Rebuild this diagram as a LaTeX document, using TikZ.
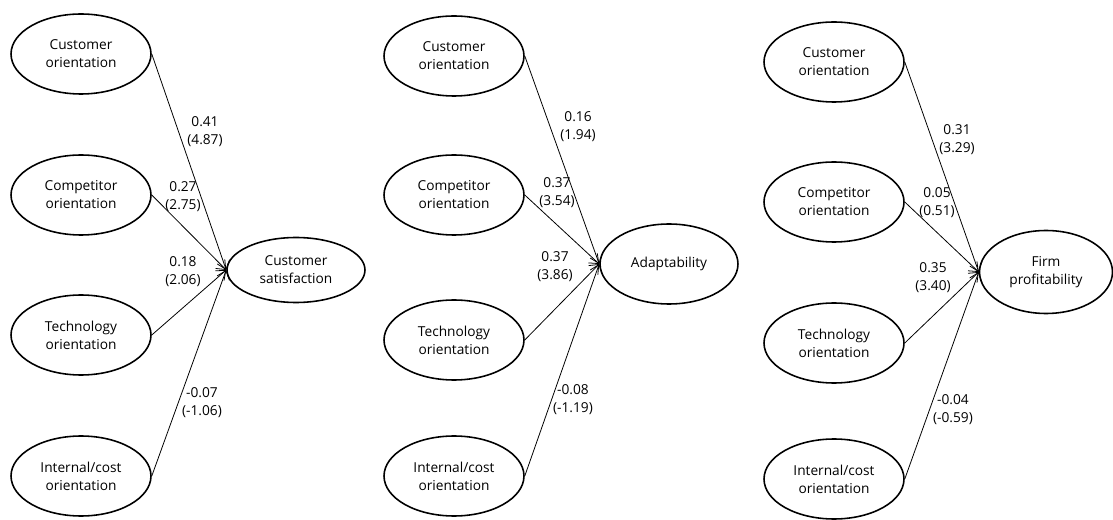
\documentclass[tikz,border=0pt]{standalone}
\usepackage{fontspec}
\setmainfont{Open Sans}
\usetikzlibrary{shapes.geometric,arrows.meta}

\begin{document}
\begin{tikzpicture}[x=0.02cm,y=-0.02cm]
\tikzstyle{every node}+=[inner sep=0pt,font=\fontsize{7.8}{10.2}\selectfont,align=center]
\tikzstyle{construct}=[ellipse,draw=black,line width=0.9pt,minimum width=2.8cm,minimum height=1.6cm]
\tikzstyle{outcome}=[construct,minimum width=2.76cm,minimum height=1.3cm]
\tikzstyle{path}=[draw=black,line width=0.45pt,-{Straight Barb[length=1.6mm,width=2.6mm]}]
\useasboundingbox (0,0) rectangle (1113,520);
\node [construct] (cus1) at (81,54) {Customer\\orientation};
\node [construct] (com1) at (81,195) {Competitor\\orientation};
\node [construct] (tec1) at (81,335) {Technology\\orientation};
\node [construct] (int1) at (81,476) {Internal/cost\\orientation};
\node [outcome] (sat) at (296,270) {Customer\\satisfaction};
\draw [path] (cus1.east) -- (sat.west);
\draw [path] (com1.east) -- (sat.west);
\draw [path] (tec1.east) -- (sat.west);
\draw [path] (int1.east) -- (sat.west);
\node (w11) at (205,132) {0.41\\(4.87)};
\node (w12) at (183,197) {0.27\\(2.75)};
\node (w13) at (183,272) {0.18\\(2.06)};
\node (w14) at (202,403) {-0.07\\(-1.06)};
\node [construct] (cus2) at (454,56) {Customer\\orientation};
\node [construct] (com2) at (454,195) {Competitor\\orientation};
\node [construct] (tec2) at (454,340) {Technology\\orientation};
\node [construct] (int2) at (454,476) {Internal/cost\\orientation};
\node [construct,minimum width=2.76cm] (ada) at (669,264) {Adaptability};
\draw [path] (cus2.east) -- (ada.west);
\draw [path] (com2.east) -- (ada.west);
\draw [path] (tec2.east) -- (ada.west);
\draw [path] (int2.east) -- (ada.west);
\node (w21) at (578,127) {0.16\\(1.94)};
\node (w22) at (557,193) {0.37\\(3.54)};
\node (w23) at (555,267) {0.37\\(3.86)};
\node (w24) at (573,400) {-0.08\\(-1.19)};
\node [construct] (cus3) at (834,62) {Customer\\orientation};
\node [construct] (com3) at (834,202) {Competitor\\orientation};
\node [construct] (tec3) at (834,343) {Technology\\orientation};
\node [construct] (int3) at (834,479) {Internal/cost\\orientation};
\node [construct,minimum width=2.66cm,minimum height=1.66cm] (pro) at (1046,272) {Firm\\profitability};
\draw [path] (cus3.east) -- (pro.west);
\draw [path] (com3.east) -- (pro.west);
\draw [path] (tec3.east) -- (pro.west);
\draw [path] (int3.east) -- (pro.west);
\node (w31) at (957,140) {0.31\\(3.29)};
\node (w32) at (937,203) {0.05\\(0.51)};
\node (w33) at (933,278) {0.35\\(3.40)};
\node (w34) at (953,410) {-0.04\\(-0.59)};
\end{tikzpicture}
\end{document}
